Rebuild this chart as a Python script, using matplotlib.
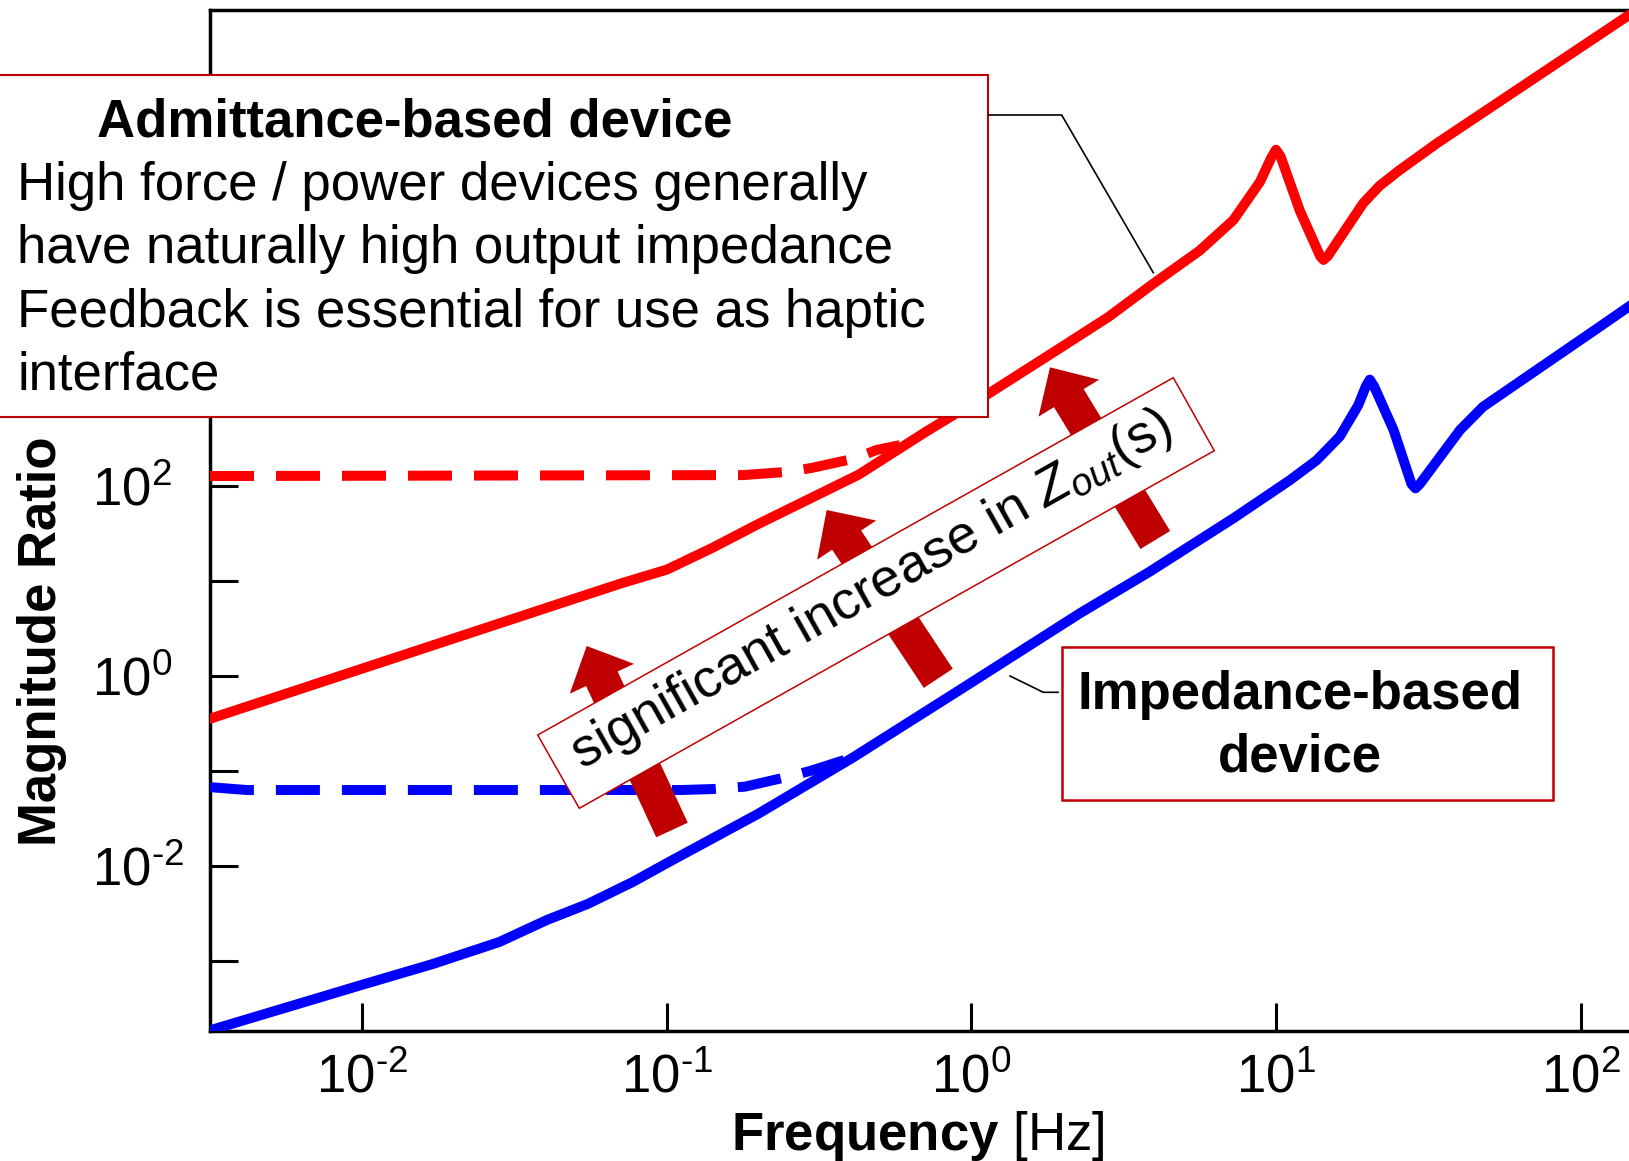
import numpy as np
import matplotlib
matplotlib.use('Agg')
import matplotlib.pyplot as plt
from matplotlib.patches import Rectangle, Polygon, FancyArrowPatch, ArrowStyle
from matplotlib.lines import Line2D
from matplotlib.ticker import FixedLocator, FuncFormatter, NullLocator

plt.rcParams['font.family'] = ['Liberation Sans', 'DejaVu Sans']
plt.rcParams['mathtext.fontset'] = 'custom'
plt.rcParams['mathtext.rm'] = 'Liberation Sans'
plt.rcParams['mathtext.it'] = 'Liberation Sans:italic'
plt.rcParams['mathtext.bf'] = 'Liberation Sans:bold'
plt.rcParams['axes.unicode_minus'] = False

# curves as log10(frequency) / log10(magnitude)
red_f = [-2.5, -1.35, -1.15, -1.0, -0.85, -0.7, -0.37, -0.15, 0.055, 0.28, 0.45, 0.597, 0.75,
         0.86, 0.947, 0.985, 1.0, 1.015, 1.078, 1.145, 1.156, 1.17, 1.286, 1.34, 1.406, 1.528, 2.159]
red_mag = [-0.45, 0.765, 0.975, 1.12, 1.35, 1.60, 2.12, 2.57, 2.97, 3.43, 3.78, 4.13, 4.48,
           4.8, 5.2, 5.46, 5.54, 5.47, 4.9, 4.42, 4.38, 4.42, 4.976, 5.16, 5.326, 5.607, 6.958]

red_open_f = [-2.5, -0.75, -0.6, -0.525, -0.383, -0.311, -0.235]
red_open_mag = [2.105, 2.115, 2.15, 2.19, 2.29, 2.38, 2.43]

blue_f = [-2.5, -2.0, -1.767, -1.55, -1.395, -1.26, -1.11, -1.0, -0.7, -0.39, -0.04, 0.356,
          0.586, 0.86, 1.045, 1.133, 1.209, 1.27, 1.295, 1.308, 1.322, 1.386, 1.445, 1.458,
          1.472, 1.604, 1.68, 2.047, 2.159]
blue_mag = [-3.73, -3.25, -3.03, -2.80, -2.57, -2.40, -2.165, -1.97, -1.45, -0.86, -0.15, 0.66,
            1.10, 1.66, 2.06, 2.27, 2.52, 2.85, 3.05, 3.12, 3.05, 2.59, 2.02, 1.975,
            2.02, 2.589, 2.835, 3.642, 3.89]

blue_open_f = [-2.5, -2.38, -0.95, -0.85, -0.744, -0.601, -0.53, -0.393]
blue_open_mag = [-1.17, -1.2, -1.2, -1.19, -1.165, -1.06, -1.0, -0.86]

x_decades = [-2, -1, 0, 1, 2]
y_decades = list(range(-3, 7))
y_labelled = [-2, 0, 2]

admit_title = 'Admittance-based device'
admit_lines = ['High force / power devices generally',
               'have naturally high output impedance',
               'Feedback is essential for use as haptic',
               'interface']
imped_lines = ['Impedance-based', 'device']
zout_text = r'significant increase in $Z_{out}$(s)'

W, H = 1629, 1161
DARKRED = '#C00000'


def px(x, y):
    return (x / W, 1 - y / H)


def pow_label(e):
    if e < 0:
        return r'$\mathdefault{10^{\text{-}%d}}$' % (-e)
    return r'$\mathdefault{10^{%d}}$' % e


fig = plt.figure(figsize=(W / 100, H / 100), dpi=100)
ax = fig.add_axes([210 / W, 1 - 1031 / H, (W - 210) / W, (1031 - 10) / H])

lw = 7.2
ax.plot(10.0 ** np.array(red_open_f), 10.0 ** np.array(red_open_mag), color='#FF0000',
        lw=lw, dashes=(4.4, 2.2), zorder=3)
ax.plot(10.0 ** np.array(blue_open_f), 10.0 ** np.array(blue_open_mag), color='#0000FF',
        lw=lw, dashes=(4.4, 2.2), zorder=3)
ax.plot(10.0 ** np.array(red_f), 10.0 ** np.array(red_mag), color='#FF0000', lw=lw,
        solid_joinstyle='round', zorder=4)
ax.plot(10.0 ** np.array(blue_f), 10.0 ** np.array(blue_mag), color='#0000FF', lw=lw,
        solid_joinstyle='round', zorder=4)

ax.set_xscale('log')
ax.set_yscale('log')
ax.set_xlim(10 ** -2.5, 10 ** 2.159)
ax.set_ylim(10 ** -3.737, 10 ** 7.011)

ax.xaxis.set_major_locator(FixedLocator([10.0 ** e for e in x_decades]))
ax.xaxis.set_minor_locator(NullLocator())
ax.yaxis.set_major_locator(FixedLocator([10.0 ** e for e in y_decades]))
ax.yaxis.set_minor_locator(NullLocator())


def fmt_x(v, pos):
    return pow_label(int(round(np.log10(v))))


def fmt_y(v, pos):
    e = int(round(np.log10(v)))
    if e not in y_labelled:
        return ''
    return pow_label(e)


ax.xaxis.set_major_formatter(FuncFormatter(fmt_x))
ax.yaxis.set_major_formatter(FuncFormatter(fmt_y))
ax.tick_params(axis='both', direction='in', length=20, width=2.2, labelsize=38)
ax.tick_params(axis='x', pad=16)
ax.tick_params(axis='y', pad=85)
for t in ax.yaxis.get_major_ticks():
    t.label1.set_horizontalalignment('left')

ax.spines['right'].set_visible(False)
for s in ['left', 'bottom', 'top']:
    ax.spines[s].set_linewidth(2.5)

# axis labels
fig.text(*px(42.5, 641), 'Magnitude Ratio', rotation=90, ha='center', va='center',
         fontsize=38, fontweight='bold')
fig.text(*px(918, 1150), r'$\mathbf{Frequency}$ [Hz]', ha='center', va='baseline',
         fontsize=38)

# arrows (tail, tip) in pixels
arrows = [((672, 830), (586.7, 646)),
          ((938.3, 678.3), (826.7, 510)),
          ((1155.3, 540), (1050, 367.3))]
for tail, tip in arrows:
    fig.add_artist(FancyArrowPatch(px(*tail), px(*tip), transform=fig.transFigure,
                                   arrowstyle=ArrowStyle('simple', head_length=26,
                                                         head_width=51, tail_width=25),
                                   mutation_scale=1, shrinkA=0, shrinkB=0,
                                   fc=DARKRED, ec='none', zorder=5))

# rotated box with text
corners = [(537.7, 735), (1173.3, 377.7), (1214.3, 450.7), (579.3, 808.3)]
fig.add_artist(Polygon([px(*c) for c in corners], closed=True, transform=fig.transFigure,
                       fc='white', ec=DARKRED, lw=1.1, zorder=6))
fig.text(*px(872, 590), zout_text, rotation=29.4, rotation_mode='anchor',
         ha='center', va='center', fontsize=39, zorder=7)

# admittance box
x0, y0 = px(-20, 416.7)
fig.add_artist(Rectangle((x0, y0), (988.3 + 20) / W, (416.7 - 75) / H,
                         transform=fig.transFigure, fc='white', ec=DARKRED, lw=1.5, zorder=6))
fig.text(*px(96.7, 136.7), admit_title, ha='left', va='baseline', fontsize=38,
         fontweight='bold', zorder=7)
for i, line in enumerate(admit_lines):
    fig.text(*px(17.3, 200 + 63.3 * i), line, ha='left', va='baseline', fontsize=38, zorder=7)
lx, ly = zip(*[px(988.3, 115), px(1061.7, 115), px(1153.3, 272.7)])
fig.add_artist(Line2D(lx, ly, transform=fig.transFigure, color='black', lw=1.2, zorder=6))

# impedance box
x0, y0 = px(1062.2, 800)
fig.add_artist(Rectangle((x0, y0), (1552.5 - 1062.2) / W, (800 - 647) / H,
                         transform=fig.transFigure, fc='white', ec=DARKRED, lw=1.8, zorder=6))
for i, line in enumerate(imped_lines):
    fig.text(*px(1300, 709.3 + 62.4 * i), line, ha='center', va='baseline', fontsize=38,
             fontweight='bold', zorder=7)
lx, ly = zip(*[px(1058, 692.3), px(1043.3, 692.3), px(1010, 676)])
fig.add_artist(Line2D(lx, ly, transform=fig.transFigure, color='black', lw=1.2, zorder=6))

fig.savefig('out.png', dpi=100)
